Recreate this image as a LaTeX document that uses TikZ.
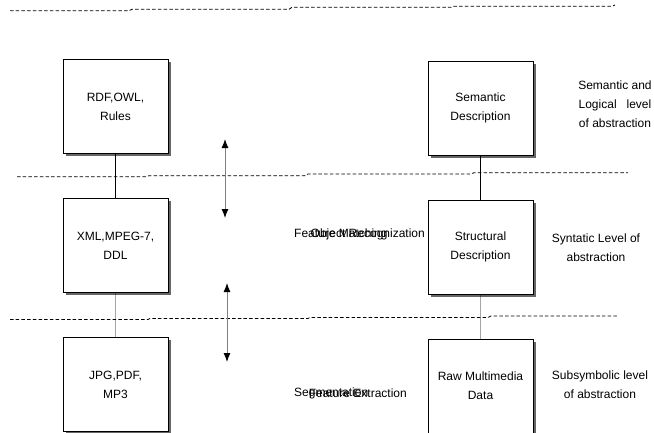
\documentclass[tikz,border=0pt]{standalone}
\usepackage{fontspec}
\setmainfont{Liberation Sans}
\usetikzlibrary{shadows,arrows.meta}

\begin{document}
\begin{tikzpicture}[x=1pt, y=-1pt, level distance=139pt,
every node/.style = {font=\fontsize{12}{19}\selectfont, align=center, inner sep=0pt},
box/.style = {shape=rectangle, draw, fill=white,
	minimum width=105pt, minimum height=94pt,
	drop shadow={shadow xshift=2.5pt, shadow yshift=-2.5pt, fill=black!60, opacity=1}},
layer/.style = {dash pattern=on 3.5pt off 2.2pt, line width=0.8pt},
move/.style = {draw=gray, line width=1pt,
	{Latex[black,length=9pt,width=7pt]}-{Latex[black,length=9pt,width=7pt]}}]
	\useasboundingbox (0,0) rectangle (654,432);
	% layer boundaries
	\draw[layer] (10,10.7) -- (129,10.7) -- (132,9.3) -- (289,9.3) -- (292,7.3)
		-- (451,7.3) -- (454,6.3) -- (612,6.3) -- (615,5);
	\draw[layer] (17,176.7) -- (146,176.7) -- (149,175.7) -- (305,175.7) -- (308,174)
		-- (471,174) -- (474,172.7) -- (628,172.7);
	\draw[layer] (10,319.5) -- (148,319.5) -- (150,318.5) -- (308,318.5) -- (310,317.5)
		-- (488,317.5) -- (491,316) -- (617,316);
	\node[box](rdf) at (115.5,106.5) {RDF,OWL,\\Rules}[grow=down]
		child {node[box](xml) {XML,MPEG-7,\\DDL}
			child {node[box](jpg) {JPG,PDF,\\MP3}}};
	\node[box](semantic) at (480.5,108) {Semantic\\Description}[grow=down]
		child {node[box](structural) {Structural\\Description}
			child {node[box](raw) {Raw Multimedia\\Data}}};
	\node[anchor=west](featmatch) at (294,234) {Feature Matching};
	\node[anchor=east](objrec) at (425,234) {Object Recognization};
	\node[anchor=west](segment) at (294,393) {Segmentation};
	\node[anchor=east](featext) at (407,393) {Feature Extraction};
	\node(semlevel) at (615,104) {Semantic and\\Logical\ \ \ level\\of abstraction};
	\node(synlevel) at (596,247.5) {Syntatic Level of\\abstraction};
	\node(sublevel) at (600,384.5) {Subsymbolic level\\of abstraction};
	\coordinate (up1) at (225,139);
	\coordinate (down1) at (225,218);
	\coordinate (up2) at (227,283);
	\coordinate (down2) at (227,362);
	\draw[move] (up1) -- (down1);
	\draw[move] (up2) -- (down2);
\end{tikzpicture}
\end{document}
